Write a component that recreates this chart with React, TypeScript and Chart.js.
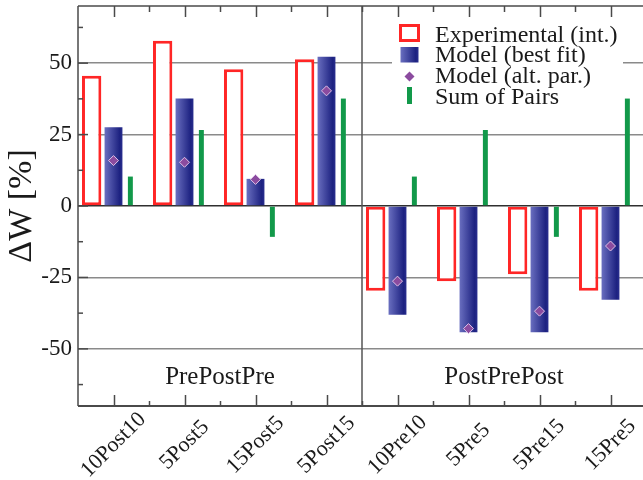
import { useEffect, useRef } from 'react';
import { Chart, registerables } from 'chart.js';

Chart.register(...registerables);

const categories = ['10Post10', '5Post5', '15Post5', '5Post15', '10Pre10', '5Pre5', '5Pre15', '15Pre5'];
const experimental = [45.6, 57.8, 47.9, 51.4, -29.7, -26.3, -23.9, -29.7];
const modelBestFit = [27.6, 37.6, 9.5, 52.2, -38.1, -44.2, -44.2, -32.8];
const modelAltPar = [15.9, 15.3, 9.3, 40.3, -26.3, -42.9, -36.8, -14];
const sumOfPairs = [10.3, 26.6, -10.8, 37.6, 10.3, 26.6, -10.8, 37.6];
const seriesNames = ['Experimental (int.)', 'Model (best fit)', 'Model (alt. par.)', 'Sum of Pairs'];
const groupLabels = ['PrePostPre', 'PostPrePost'];
const groupFirst = [0, 4];
const groupLast = [3, 7];
const yTicks = [-50, -25, 0, 25, 50];
const yMinorTicks = [-62.5, -37.5, -12.5, 12.5, 37.5, 62.5];
const yMin = -70;
const yMax = 70;
const yTitle = 'ΔW [%]';

const SERIF = '"Liberation Serif", "Times New Roman", serif';
const RED = '#ff2626';
const GREEN = '#12994a';
const PURPLE = '#8b4b9f';
const BLUE_L = '#6a6fc0';
const BLUE_D = '#1c2180';
const TEXT = '#1a1a1a';

function blueGradient(ctx: CanvasRenderingContext2D, cx: number, half: number) {
  const g = ctx.createLinearGradient(cx - half, 0, cx + half, 0);
  g.addColorStop(0, BLUE_L);
  g.addColorStop(0.85, BLUE_D);
  g.addColorStop(1, '#2b3090');
  return g;
}

const decorPlugin = {
  id: 'decor',
  afterDatasetsDraw(chart: any) {
    const { ctx, chartArea: a, scales } = chart;
    const x = scales.x;
    const y = scales.y;
    const cw = (a.right - a.left) / categories.length;
    const line = (x1: number, y1: number, x2: number, y2: number) => {
      ctx.beginPath();
      ctx.moveTo(x1, y1);
      ctx.lineTo(x2, y2);
      ctx.stroke();
    };
    ctx.save();

    // legend box
    const bx = 392, by = 18, bw = 231, bh = 94;
    ctx.fillStyle = '#ffffff';
    ctx.fillRect(bx, by, bw, bh);
    const ix = 409.5;
    const tx = 435;
    const base0 = 41.5;
    const step = 20.8;
    ctx.strokeStyle = RED;
    ctx.lineWidth = 3;
    ctx.fillStyle = '#fff';
    ctx.fillRect(400.5, 25.5, 18, 15);
    ctx.strokeRect(400.5, 25.5, 18, 15);
    ctx.fillStyle = blueGradient(ctx, ix, 9);
    ctx.fillRect(ix - 9, 47, 18, 15.5);
    ctx.fillStyle = PURPLE;
    ctx.beginPath();
    ctx.moveTo(ix, 71.5);
    ctx.lineTo(ix + 5, 76.5);
    ctx.lineTo(ix, 81.5);
    ctx.lineTo(ix - 5, 76.5);
    ctx.closePath();
    ctx.fill();
    ctx.fillStyle = GREEN;
    ctx.fillRect(ix - 2.5, 87, 5, 17);
    ctx.fillStyle = TEXT;
    ctx.font = `24px ${SERIF}`;
    ctx.textAlign = 'left';
    ctx.textBaseline = 'alphabetic';
    seriesNames.forEach((n, i) => ctx.fillText(n, tx, base0 + i * step));

    // axes lines
    ctx.strokeStyle = '#4a4a4a';
    ctx.lineWidth = 1.5;
    line(a.left, a.top, a.right, a.top);
    line(a.left, a.top, a.left, a.bottom);
    ctx.lineWidth = 2;
    line(a.left, a.bottom, a.right, a.bottom);

    // divider between groups
    ctx.lineWidth = 1.5;
    ctx.strokeStyle = '#555';
    const divX = (x.getPixelForValue(groupLast[0]) + x.getPixelForValue(groupFirst[1])) / 2;
    line(divX, a.top, divX, a.bottom);

    // x ticks (inward)
    ctx.strokeStyle = '#4a4a4a';
    ctx.lineWidth = 1.5;
    categories.forEach((_, i) => {
      const px = Math.round(x.getPixelForValue(i)) + 0.5;
      line(px, a.bottom, px, a.bottom - 11);
      line(px, a.top, px, a.top + 11);
    });
    for (let i = 1; i < categories.length; i++) {
      const px = Math.round(a.left + i * cw) + 0.5;
      line(px, a.bottom, px, a.bottom - 5);
      line(px, a.top, px, a.top + 6);
    }
    yMinorTicks.forEach((v) => {
      const py = y.getPixelForValue(v);
      line(a.left, py, a.left + 5, py);
    });
    yTicks.forEach((v) => {
      const py = y.getPixelForValue(v);
      line(a.left, py, a.left + 10, py);
    });

    // rotated category labels, centred on their ticks
    ctx.fillStyle = TEXT;
    ctx.font = `22px ${SERIF}`;
    ctx.textAlign = 'center';
    ctx.textBaseline = 'middle';
    categories.forEach((_, i) => {
      const px = x.getPixelForValue(i);
      ctx.save();
      ctx.translate(px, a.bottom + 39);
      ctx.rotate(-Math.PI / 4);
      ctx.fillText(x.getLabelForValue(i), 0, 0);
      ctx.restore();
    });

    // group labels
    ctx.font = `25px ${SERIF}`;
    ctx.textAlign = 'center';
    ctx.textBaseline = 'alphabetic';
    groupLabels.forEach((g, i) => {
      const cx = (x.getPixelForValue(groupFirst[i]) + x.getPixelForValue(groupLast[i])) / 2;
      ctx.fillText(g, cx, 384);
    });
    ctx.restore();
  },
};

export default function App() {
  const ref = useRef<HTMLCanvasElement>(null);
  useEffect(() => {
    const canvas = ref.current!;
    const chart = new Chart(canvas, {
      type: 'bar',
      data: {
        labels: categories,
        datasets: [
          {
            type: 'bar',
            label: seriesNames[0],
            data: experimental,
            backgroundColor: '#ffffff',
            borderColor: RED,
            borderWidth: 3,
            borderSkipped: false,
            categoryPercentage: 0.923,
            barPercentage: 0.886,
          } as any,
          {
            type: 'bar',
            label: seriesNames[1],
            data: modelBestFit,
            backgroundColor: (c: any) => {
              const ch = c.chart;
              const xs = ch.scales && ch.scales.x;
              if (!xs || c.dataIndex === undefined || !ch.chartArea) return BLUE_D;
              const cx = xs.getPixelForValue(c.dataIndex);
              return blueGradient(ch.ctx, cx, 9);
            },
            borderWidth: 0,
            categoryPercentage: 0.9,
            barPercentage: 0.839,
          } as any,
          {
            type: 'bar',
            label: seriesNames[3],
            data: sumOfPairs,
            backgroundColor: GREEN,
            borderWidth: 0,
            categoryPercentage: 0.713,
            barPercentage: 0.294,
          } as any,
          {
            type: 'line',
            label: seriesNames[2],
            data: modelAltPar,
            showLine: false,
            pointStyle: 'rectRot',
            pointRadius: 5,
            pointBackgroundColor: PURPLE,
            pointBorderColor: '#dcc0e6',
            pointBorderWidth: 1,
            order: -1,
          } as any,
        ],
      },
      options: {
        animation: false,
        responsive: false,
        devicePixelRatio: 1,
        layout: { padding: { top: 6, right: 2, left: 0, bottom: 0 } },
        plugins: { legend: { display: false }, tooltip: { enabled: false } },
        scales: {
          x: {
            type: 'category',
            offset: true,
            grid: { display: false, drawTicks: false },
            border: { display: false },
            ticks: { display: false, autoSkip: false },
            afterFit: (s: any) => {
              s.height = 74;
              s.paddingLeft = 0;
              s.paddingRight = 0;
            },
          },
          y: {
            min: yMin,
            max: yMax,
            grid: {
              drawTicks: false,
              color: (c: any) => (c.tick && c.tick.value === 0 ? '#303030' : '#8a8a8a'),
              lineWidth: 1.5,
            },
            border: { display: false },
            afterBuildTicks: (s: any) => {
              s.ticks = yTicks.map((v) => ({ value: v }));
            },
            ticks: {
              padding: 6,
              color: TEXT,
              font: { family: SERIF, size: 23 },
              callback: (v: any) => String(v),
            },
            title: {
              display: true,
              text: yTitle,
              color: TEXT,
              font: { family: SERIF, size: 34 },
              padding: { top: 2, bottom: 0 },
            },
            afterFit: (s: any) => {
              s.width = 78;
              s.paddingTop = 0;
              s.paddingBottom = 0;
            },
          },
        },
      },
      plugins: [decorPlugin],
    });
    return () => chart.destroy();
  }, []);
  return (
    <div
      style={{
        position: 'absolute',
        left: 0,
        top: 0,
        width: 643,
        height: 480,
        overflow: 'hidden',
        background: '#fff',
      }}
    >
      <canvas ref={ref} width={652} height={480} style={{ display: 'block', width: 652, height: 480 }} />
    </div>
  );
}
